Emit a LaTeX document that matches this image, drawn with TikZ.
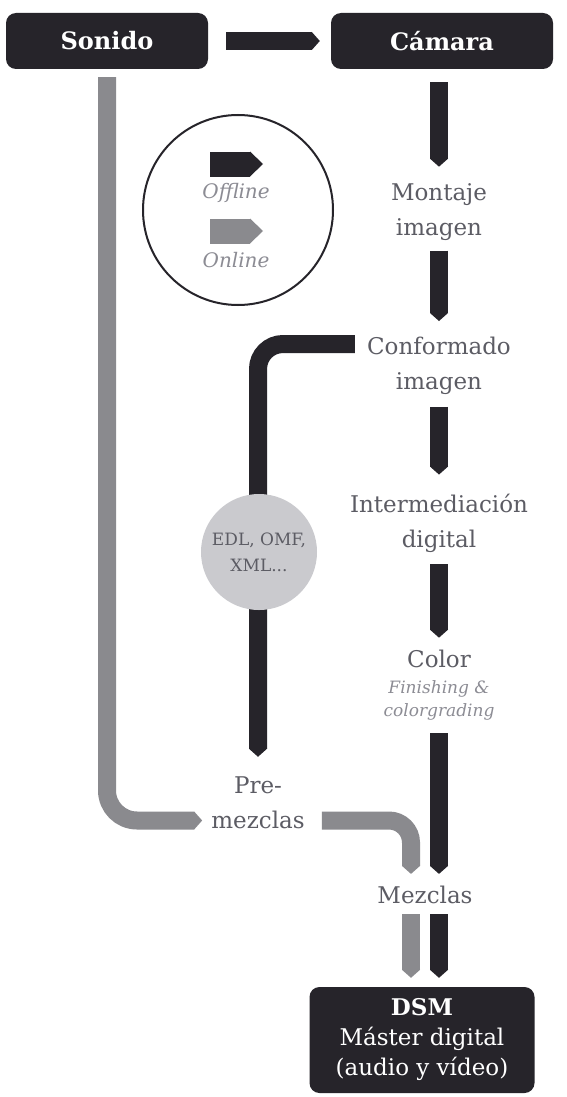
\documentclass[tikz,border=0pt]{standalone}
\usepackage{fontspec}
\setmainfont{DejaVu Serif}
\usetikzlibrary{arrows.meta}
\definecolor{flowdark}{RGB}{38,36,42}
\definecolor{flowgray}{RGB}{138,138,142}
\definecolor{edlgray}{RGB}{202,202,206}
\definecolor{labelgray}{RGB}{92,92,100}
\definecolor{notegray}{RGB}{140,140,148}
\newcommand{\subnote}[1]{{\fontsize{17}{23}\selectfont\itshape\color{notegray}#1}}

\begin{document}
\begin{tikzpicture}[x=1pt, y=-1pt,
    box/.style={fill=flowdark, rounded corners=10pt, text=white, minimum height=56pt, inner sep=0pt, font=\fontsize{24}{30}\selectfont\bfseries},
    lbl/.style={text=labelgray, align=center, inner sep=0pt, font=\fontsize{23}{35}\selectfont},
    note/.style={text=notegray, inner sep=0pt, font=\fontsize{20}{24}\selectfont\itshape},
    offline/.style={draw=flowdark, line width=18pt, -{Triangle[width=0pt 1, length=8pt, line width=0pt]}, shorten <=12pt, shorten >=14pt},
    online/.style={offline, draw=flowgray},
    keyarrow/.style={line width=25pt, -{Triangle[width=0pt 1, length=13pt, line width=0pt]}, shorten <=0pt, shorten >=0pt}
  ]
    % Background
    \fill[white] (0,0) rectangle (566,1097);
    \useasboundingbox (0,0) rectangle (566,1097);

    % Boxes
    \node[box, minimum width=202pt] (sonido) at (107,41) {Sonido};
    \node[box, minimum width=222pt] (camara) at (442,41) {Cámara};

    % Steps
    \node[lbl] (montaje) at (439,212) {Montaje\\imagen};
    \node[lbl] (conformado) at (439,366) {Conformado\\imagen};
    \node[lbl] (intermed) at (439,523) {Intermediación\\digital};
    \node[lbl] (color) at (439,685) {Color\\[-9pt]\subnote{Finishing \&}\\[-12pt]\subnote{colorgrading}};
    \node[lbl] (premez) at (258,803) {Pre-\\mezclas};
    \node[lbl] (mezclas) at (425,895) {Mezclas};
    \node[box, minimum width=225pt, minimum height=106pt, align=center, font=\fontsize{23}{30}\selectfont] (dsm) at (422,1040) {\textbf{DSM}\\Máster digital\\(audio y vídeo)};

    % Offline flow
    \draw[offline, shorten <=18pt, shorten >=11pt] (sonido) -- (camara);
    \draw[offline, shorten <=13pt, shorten >=16.6pt] (camara.south -| montaje.north) -- (montaje.north);
    \draw[offline, shorten <=10pt, shorten >=16pt] (montaje.south) -- (conformado.north);
    \draw[offline, shorten >=19pt] (conformado.south) -- (intermed.north);
    \draw[offline, shorten >=12pt] (intermed.south) -- (color.north);
    \draw[offline, shorten <=13pt, shorten >=12pt] (color.south) -- ([xshift=14pt]mezclas.north);
    \draw[offline, rounded corners=25pt, shorten <=12pt, shorten >=20pt] ([yshift=22pt]conformado.west) -| (premez.north);

    % Online flow
    \draw[online, rounded corners=30pt, shorten <=8pt, shorten >=9pt] (sonido.south) |- ([yshift=-17.5pt]premez.west);
    \draw[online, rounded corners=22pt, shorten <=17pt, shorten >=12pt] ([yshift=-17.5pt]premez.east) -| ([xshift=-14pt]mezclas.north);
    \draw[online, shorten <=10pt, shorten >=9pt] ([xshift=-14pt]mezclas.south) -- ([xshift=-14pt]mezclas.south |- dsm.north);
    \draw[offline, shorten <=10pt, shorten >=9pt] ([xshift=14pt]mezclas.south) -- ([xshift=14pt]mezclas.south |- dsm.north);

    % Exchange files
    \node[circle, fill=edlgray, minimum size=116pt, inner sep=0pt, align=center, text=labelgray, font=\fontsize{17}{26}\selectfont] (edl) at (259,552) {EDL, OMF,\\XML...};

    % Legend
    \node[circle, draw=flowdark, line width=2pt, minimum size=190pt] (legend) at (238,210) {};
    \coordinate (offkey) at (210,164);
    \coordinate (onkey) at (210,231);
    \draw[offline, keyarrow] (offkey) -- ++(53,0);
    \draw[online, keyarrow] (onkey) -- ++(53,0);
    \node[note] (offtxt) at (236,193) {Offline};
    \node[note] (ontxt) at (236,260) {Online};
\end{tikzpicture}
\end{document}
